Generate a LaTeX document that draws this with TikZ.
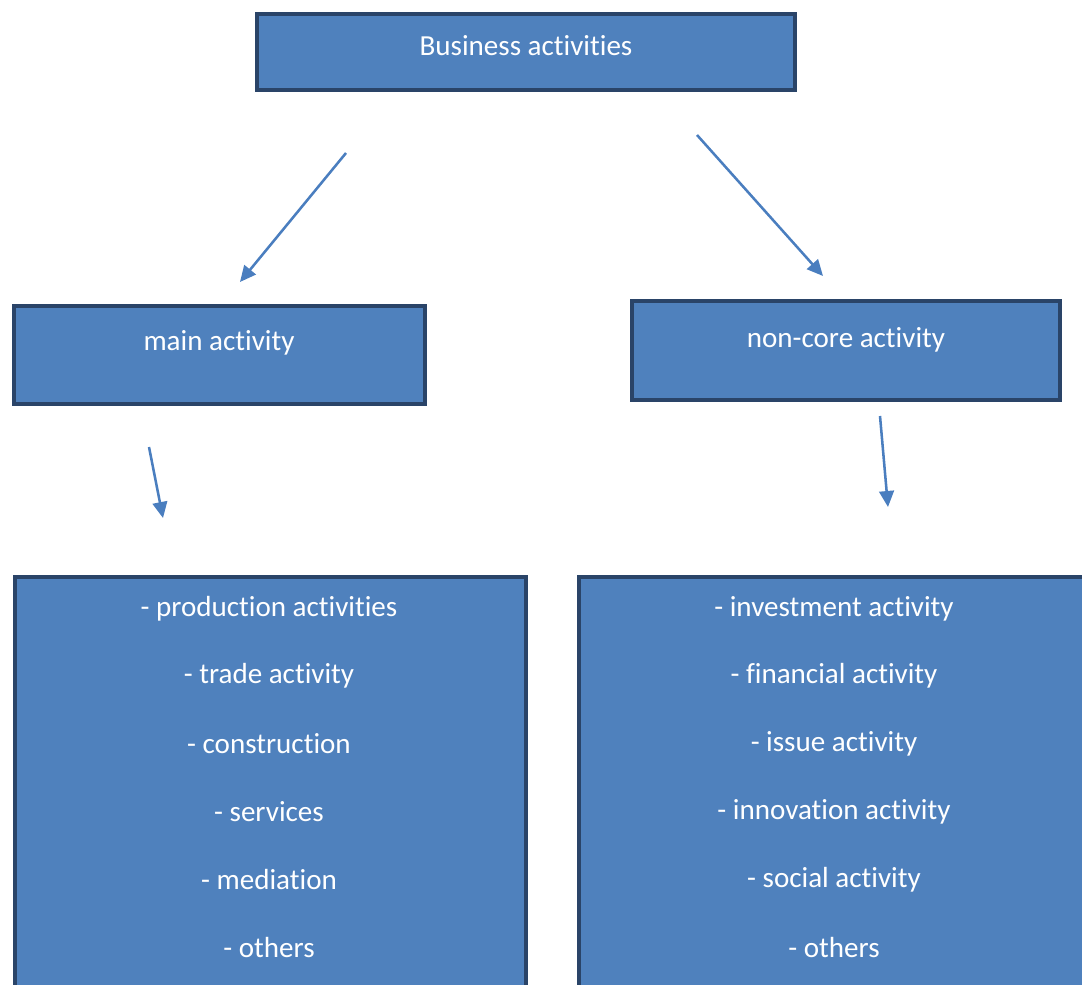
\documentclass[tikz,border=0pt]{standalone}
\usepackage{fontspec}
\setmainfont{Carlito}[Ligatures=NoCommon]
\usetikzlibrary{arrows.meta}
\definecolor{boxfill}{HTML}{4F81BD}
\definecolor{boxedge}{HTML}{2A4468}
\definecolor{arrowblue}{HTML}{4A7EBF}
% zero kern that keeps "t" and "i" as separate glyphs
\newcommand{\nl}{\kern0pt}
\tikzset{
  box/.style={draw=boxedge, fill=boxfill, line width=3pt, inner sep=0pt},
  lbl/.style={text=white, font=\fontsize{21.8}{26}\selectfont, inner sep=0pt},
  link/.style={draw=arrowblue, line width=1.9pt, -{Triangle[length=12pt,width=11pt]}}
}
\begin{document}
\begin{tikzpicture}[x=0.75pt,y=-0.75pt]
\useasboundingbox (0,0) rectangle (1082,985);
\clip (0,0) rectangle (1082,985);

% boxes
\node[box, minimum width=538*0.75pt, minimum height=76*0.75pt] (top) at (526,52) {};
\node[box, minimum width=411*0.75pt, minimum height=98*0.75pt] (main) at (219.5,355) {};
\node[box, minimum width=428*0.75pt, minimum height=99*0.75pt] (noncore) at (846,350.5) {};
\node[box, minimum width=511*0.75pt, minimum height=440*0.75pt, anchor=north west] (mainlist) at (13,575) {};
\node[box, minimum width=520*0.75pt, minimum height=440*0.75pt, anchor=north west] (otherlist) at (577,575) {};

% box titles
\node[lbl] (toptext) at (526,46) {Business act\nl ivit\nl ies};
\node[lbl] (maintext) at (219,343) {main act\nl ivity};
\node[lbl] (noncoretext) at (846,340) {non-core act\nl ivity};

% main activity list
\node[lbl] (m1) at (269,609) {- product\nl ion act\nl ivit\nl ies};
\node[lbl] (m2) at (269,676) {- trade act\nl ivity};
\node[lbl] (m3) at (269,744) {- construct\nl ion};
\node[lbl] (m4) at (269,812) {- services};
\node[lbl] (m5) at (269,880) {- mediat\nl ion};
\node[lbl] (m6) at (269,948) {- others};

% non-core activity list
\node[lbl] (n1) at (834,609) {- investment act\nl ivity};
\node[lbl] (n2) at (834,676) {- financial act\nl ivity};
\node[lbl] (n3) at (834,744) {- issue act\nl ivity};
\node[lbl] (n4) at (834,812) {- innovat\nl ion act\nl ivity};
\node[lbl] (n5) at (834,880) {- social act\nl ivity};
\node[lbl] (n6) at (834,948) {- others};

% arrow end points
\coordinate (a1s) at (346,153);
\coordinate (a1e) at (240,282);
\coordinate (a2s) at (697,135);
\coordinate (a2e) at (823,276);
\coordinate (a3s) at (149,447);
\coordinate (a3e) at (163,518);
\coordinate (a4s) at (880,416);
\coordinate (a4e) at (888,507);

\draw[link] (a1s) -- (a1e);
\draw[link] (a2s) -- (a2e);
\draw[link] (a3s) -- (a3e);
\draw[link] (a4s) -- (a4e);
\end{tikzpicture}
\end{document}
